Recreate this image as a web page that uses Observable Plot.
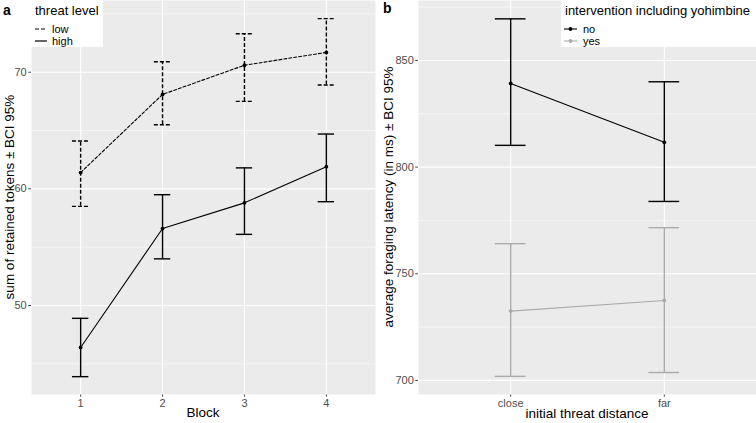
<!DOCTYPE html>
<html>
<head>
<meta charset="utf-8">
<script src="https://cdn.jsdelivr.net/npm/d3@7"></script>
<script src="https://cdn.jsdelivr.net/npm/@observablehq/plot@0.6"></script>
<style>
  html, body { margin: 0; padding: 0; background: #fff; }
  #wrap { position: relative; width: 756px; height: 423px; overflow: hidden; font-family: "Liberation Sans", Arial, sans-serif; color: #000; }
  .panel { position: absolute; top: 0; }
  .ov { position: absolute; white-space: nowrap; line-height: 1; }
  .ytitle { position: absolute; white-space: nowrap; font-size: 13.5px; transform: translate(-50%, -50%) rotate(-90deg); line-height: 1; }
  .xtitle { position: absolute; white-space: nowrap; font-size: 13.5px; transform: translate(-50%, -50%); line-height: 1; }
  .legend { position: absolute; background: #fff; }
  .legend .t { position: absolute; font-size: 13px; white-space: nowrap; line-height: 1; }
  .legend .l { position: absolute; font-size: 11px; white-space: nowrap; line-height: 1; }
  .legend svg { position: absolute; }
  .tag { position: absolute; font-weight: bold; font-size: 14px; line-height: 1; }
</style>
</head>
<body>
<div id="wrap"></div>
<script>
// ---------- Panel a data ----------
const blocks = [1, 2, 3, 4];
const lowMean = [61.4, 68.1, 70.6, 71.7];
const lowLo   = [58.5, 65.5, 67.5, 68.9];
const lowHi   = [64.1, 70.9, 73.3, 74.6];
const highMean = [46.4, 56.6, 58.8, 61.9];
const highLo   = [43.9, 54.0, 56.1, 58.9];
const highHi   = [48.9, 59.5, 61.8, 64.7];
const aTicks = [50, 60, 70];
const aMinor = [45, 55, 65, 75];

// ---------- Panel b data ----------
const distances = ["close", "far"];
const noMean = [839.2, 811.6];
const noLo   = [810.2, 783.9];
const noHi   = [869.5, 840.0];
const yesMean = [732.5, 737.5];
const yesLo   = [701.9, 703.7];
const yesHi   = [764.1, 771.6];
const bTicks = [700, 750, 800, 850];
const bMinor = [725, 775, 825, 875];

const GRAY = "#ABABAB";
const capHalf = 0.1;

function rows(xs, m, lo, hi) {
  return xs.map((x, i) => ({x, m: m[i], lo: lo[i], hi: hi[i]}));
}
function series(data, color, dashBar, dashLine) {
  return [
    Plot.ruleX(data, {x: "x", y1: "lo", y2: "hi", stroke: color, strokeWidth: 1.4, strokeDasharray: dashBar}),
    Plot.ruleY(data, {y: "lo", x1: d => d.x - capHalf, x2: d => d.x + capHalf, stroke: color, strokeWidth: 1.4, strokeDasharray: dashBar}),
    Plot.ruleY(data, {y: "hi", x1: d => d.x - capHalf, x2: d => d.x + capHalf, stroke: color, strokeWidth: 1.4, strokeDasharray: dashBar}),
    Plot.line(data, {x: "x", y: "m", stroke: color, strokeWidth: 1.1, strokeDasharray: dashLine}),
    Plot.dot(data, {x: "x", y: "m", fill: color, r: 1.9})
  ];
}
const baseStyle = {fontFamily: "Liberation Sans, Arial, sans-serif", fontSize: "11px", color: "#4D4D4D", background: "transparent", overflow: "visible"};

// ---------- Panel a ----------
const lowRows = rows(blocks, lowMean, lowLo, lowHi);
const highRows = rows(blocks, highMean, highLo, highHi);
const plotA = Plot.plot({
  width: 378, height: 423,
  marginLeft: 31, marginRight: 3, marginTop: 0, marginBottom: 29,
  style: baseStyle,
  x: {type: "linear", domain: [0.4, 4.6], ticks: blocks, tickFormat: d => String(d), tickSize: 2.75, tickPadding: 2, label: null},
  y: {domain: [42.37, 76.15], ticks: aTicks, tickSize: 2.75, tickPadding: 2, label: null},
  marks: [
    Plot.frame({fill: "#EBEBEB", stroke: null}),
    Plot.ruleY(aMinor, {stroke: "#fff", strokeWidth: 0.55}),
    Plot.ruleY(aTicks, {stroke: "#fff", strokeWidth: 1.1}),
    Plot.ruleX(blocks, {stroke: "#fff", strokeWidth: 1.1}),
    ...series(lowRows, "#000", "4,2", "3,2"),
    ...series(highRows, "#000", null, null)
  ]
});

// ---------- Panel b ----------
const idx = distances.map((d, i) => i);
const noRows = rows(idx, noMean, noLo, noHi);
const yesRows = rows(idx, yesMean, yesLo, yesHi);
const plotB = Plot.plot({
  width: 378, height: 423,
  marginLeft: 40, marginRight: 0, marginTop: 0, marginBottom: 29,
  style: baseStyle,
  x: {type: "linear", domain: [-0.6, 1.6], ticks: idx, tickFormat: i => distances[i], tickSize: 2.75, tickPadding: 2, label: null},
  y: {domain: [693.4, 878.1], ticks: bTicks, tickSize: 2.75, tickPadding: 2, label: null},
  marks: [
    Plot.frame({fill: "#EBEBEB", stroke: null}),
    Plot.ruleY(bMinor, {stroke: "#fff", strokeWidth: 0.55}),
    Plot.ruleY(bTicks, {stroke: "#fff", strokeWidth: 1.1}),
    Plot.ruleX(idx, {stroke: "#fff", strokeWidth: 1.1}),
    ...series(noRows, "#000", null, null),
    ...series(yesRows, GRAY, null, null)
  ]
});

const wrap = document.getElementById("wrap");
const pa = document.createElement("div"); pa.className = "panel"; pa.style.left = "0px"; pa.appendChild(plotA);
const pb = document.createElement("div"); pb.className = "panel"; pb.style.left = "378px"; pb.appendChild(plotB);
wrap.appendChild(pa); wrap.appendChild(pb);

// ---------- Titles, tags, legends ----------
function add(html) { wrap.insertAdjacentHTML("beforeend", html); }
add(`<div class="tag" style="left:3px;top:3px">a</div>`);
add(`<div class="tag" style="left:383px;top:1px">b</div>`);
add(`<div class="ytitle" style="left:10px;top:197px">sum of retained tokens ± BCI 95%</div>`);
add(`<div class="ytitle" style="left:389px;top:197px">average foraging latency (in ms) ± BCI 95%</div>`);
add(`<div class="xtitle" style="left:203px;top:413px">Block</div>`);
add(`<div class="xtitle" style="left:587px;top:414px">initial threat distance</div>`);

const levels = ["low", "high"];
const groups = ["no", "yes"];
add(`<div class="legend" style="left:31px;top:0px;width:72px;height:47px">
  <div class="t" style="left:4px;top:4px">threat level</div>
  <svg style="left:3px;top:23px" width="14" height="24">
    <line x1="1" x2="13" y1="6" y2="6" stroke="#000" stroke-width="1.2" stroke-dasharray="4,2"/>
    <line x1="1" x2="13" y1="18" y2="18" stroke="#000" stroke-width="1.2"/>
  </svg>
  <div class="l" style="left:21px;top:24px">${levels[0]}</div>
  <div class="l" style="left:21px;top:36px">${levels[1]}</div>
</div>`);
add(`<div class="legend" style="left:561px;top:0px;width:195px;height:47px">
  <div class="t" style="left:4px;top:4px">intervention including yohimbine</div>
  <svg style="left:2px;top:23px" width="16" height="24">
    <line x1="1" x2="14" y1="6" y2="6" stroke="#000" stroke-width="1.1"/>
    <circle cx="7.5" cy="6" r="1.9" fill="#000"/>
    <line x1="1" x2="14" y1="18" y2="18" stroke="${GRAY}" stroke-width="1.1"/>
    <circle cx="7.5" cy="18" r="1.9" fill="${GRAY}"/>
  </svg>
  <div class="l" style="left:22px;top:24px">${groups[0]}</div>
  <div class="l" style="left:22px;top:36px">${groups[1]}</div>
</div>`);
</script>
</body>
</html>
